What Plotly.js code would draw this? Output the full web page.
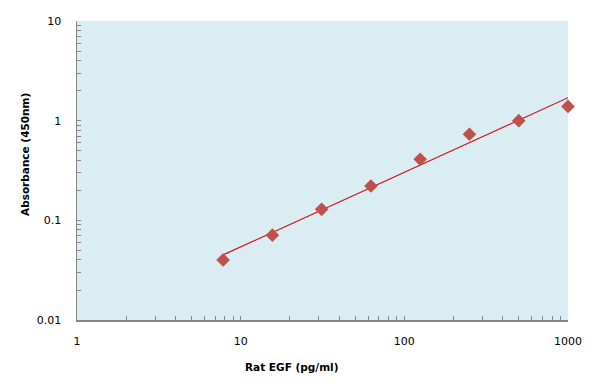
<!DOCTYPE html>
<html>
<head>
<meta charset="utf-8">
<script src="https://cdn.plot.ly/plotly-3.0.1.min.js"></script>
<style>html,body{margin:0;padding:0;background:#fff;}#chart{width:596px;height:391px;}</style>
</head>
<body>
<div id="chart"></div>
<script>
// Data
const concentration = [7.8125, 15.625, 31.25, 62.5, 125, 250, 500, 1000];
const absorbance = [0.040, 0.071, 0.129, 0.221, 0.41, 0.73, 1.00, 1.39];
// Trend line at its ends
const fitX = [7.8125, 1000];
const fitY = [0.045, 1.70];

const xTickVals = [1,2,3,4,5,6,7,8,9,10,20,30,40,50,60,70,80,90,100,200,300,400,500,600,700,800,900,1000];
const xTickText = ['1','','','','','','','','','10','','','','','','','','','100','','','','','','','','','1000'];
const yTickVals = [0.01,0.02,0.03,0.04,0.05,0.06,0.07,0.08,0.09,0.1,0.2,0.3,0.4,0.5,0.6,0.7,0.8,0.9,1,2,3,4,5,6,7,8,9,10];
const yTickText = ['0.01','','','','','','','','','0.1','','','','','','','','','1','','','','','','','','','10'];

const xTitle = 'Rat EGF (pg/ml)';
const yTitle = 'Absorbance (450nm)';

const traces = [
  {x: fitX, y: fitY, mode: 'lines', type: 'scatter',
   line: {color: '#d4111c', width: 1.2}, hoverinfo: 'skip'},
  {x: concentration, y: absorbance, mode: 'markers', type: 'scatter', cliponaxis: false,
   marker: {symbol: 'diamond', size: 10.5, color: '#c0504d', line: {width: 0}}}
];

const axisCommon = {
  showline: true, linecolor: '#868686', linewidth: 1.5,
  ticks: 'inside', ticklen: 4, tickcolor: '#868686', tickwidth: 1,
  showgrid: false, zeroline: false, tickmode: 'array',
  tickfont: {family: 'DejaVu Sans, Verdana, sans-serif', size: 11, color: '#000'},
  ticklabelstandoff: 10
};

const layout = {
  width: 596, height: 391,
  margin: {l: 77, r: 28, t: 21, b: 71},
  paper_bgcolor: '#ffffff',
  plot_bgcolor: '#daedf2',
  showlegend: false,
  xaxis: Object.assign({}, axisCommon, {
    type: 'log', range: [0, 3], tickvals: xTickVals, ticktext: xTickText
  }),
  yaxis: Object.assign({}, axisCommon, {
    type: 'log', range: [-2, 1], tickvals: yTickVals, ticktext: yTickText,
    ticklabelstandoff: 12
  }),
  annotations: [
    {text: '<b>' + xTitle + '</b>', xref: 'paper', yref: 'paper',
     x: (291.5 - 77) / 491, y: -(367 - 320) / 299, xanchor: 'center', yanchor: 'middle',
     showarrow: false, font: {family: 'DejaVu Sans, Verdana, sans-serif', size: 10.5, color: '#000'}},
    {text: '<b>' + yTitle + '</b>', xref: 'paper', yref: 'paper', textangle: -90,
     x: -(77 - 25) / 491, y: (320 - 155) / 299, xanchor: 'center', yanchor: 'middle',
     showarrow: false, font: {family: 'DejaVu Sans, Verdana, sans-serif', size: 10.5, color: '#000'}}
  ]
};

Plotly.newPlot('chart', traces, layout, {displayModeBar: false, staticPlot: true});
</script>
</body>
</html>
